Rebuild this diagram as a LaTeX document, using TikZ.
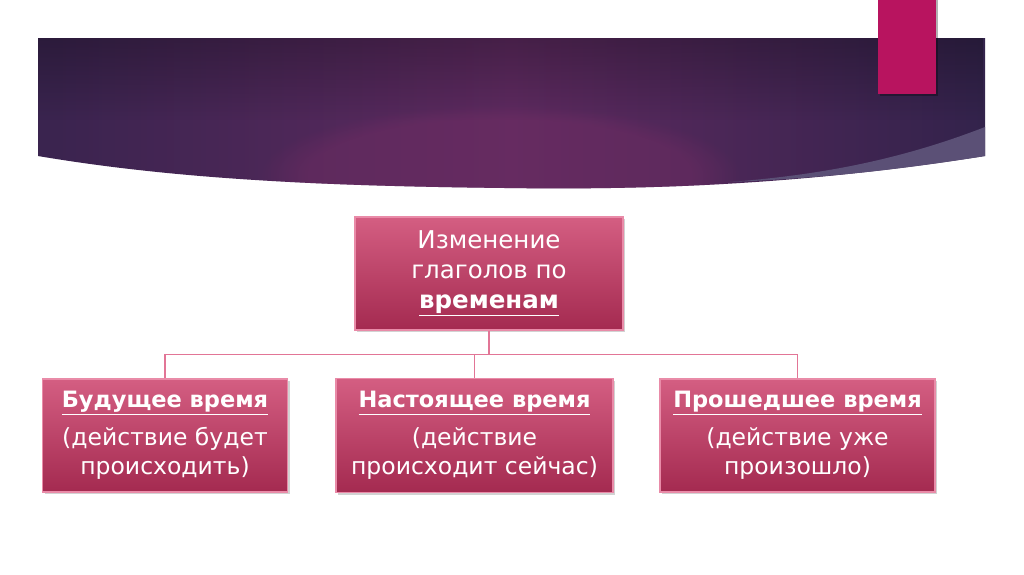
\documentclass[tikz,border=0pt]{standalone}
\usepackage{fontspec}
\setmainfont{DejaVu Sans}
\usetikzlibrary{shadows,fadings,calc}
\definecolor{bannerdark}{HTML}{2A2147}
\definecolor{bannerright}{HTML}{231D45}
\definecolor{bannermid}{HTML}{5E2A60}
\definecolor{glow}{HTML}{6E2C62}
\definecolor{stripe}{HTML}{5B5076}
\definecolor{magbar}{HTML}{B8145F}
\definecolor{boxtop}{HTML}{D45E82}
\definecolor{boxbot}{HTML}{A42A50}
\definecolor{boxedge}{HTML}{E98BA8}
\definecolor{connc}{HTML}{E27596}
\pgfdeclarehorizontalshading{bannershade}{100bp}{
  color(0bp)=(bannerdark); color(25bp)=(bannerdark!70!bannermid);
  color(50bp)=(bannermid); color(68bp)=(bannerdark!60!bannermid);
  color(80bp)=(bannerdark); color(100bp)=(bannerright)}
\tikzset{
  tbox/.style={shade, top color=boxtop, bottom color=boxbot, draw=boxedge,
    line width=1.2pt, inner sep=0pt, align=center, text=white,
    font=\fontsize{23.5}{29}\selectfont,
    drop shadow={shadow xshift=2pt, shadow yshift=-2pt, opacity=0.35}},
  conn/.style={draw=connc, line width=1.3pt}
}
\newcommand{\ttl}[1]{{\fontsize{22.5}{29}\selectfont\bfseries\underline{#1}}}
\newcommand{\bannerpath}{(38,38) -- (985,38) -- (985,156)
  .. controls (800,185) and (650,190) .. (505,188)
  .. controls (330,186) and (180,180) .. (38,156) -- cycle}
\begin{document}
\begin{tikzpicture}[x=1pt,y=-1pt]
\useasboundingbox (0,0) rectangle (1024,574);
\fill[white] (0,0) rectangle (1024,574);
% banner
\path[shading=bannershade] \bannerpath;
\begin{scope}
  \clip \bannerpath;
  \fill[black, opacity=0.25, path fading=south] (38,38) rectangle (985,120);
  \fill[glow, opacity=0.5, path fading=circle with fuzzy edge 20 percent]
    (500,175) ellipse (240 and 70);
\end{scope}
\fill[stripe] (985,127) .. controls (900,160) and (820,175) .. (730,182)
  .. controls (830,178) and (910,168) .. (985,156) -- cycle;
% magenta bar
\fill[black,opacity=0.3] (880,0) rectangle (938,96);
\fill[magbar] (878,0) rectangle (936,94);
% boxes
\node[tbox, minimum width=268pt, minimum height=113pt, font=\fontsize{24.5}{30}\selectfont] (top) at (489,273.5)
  {Изменение\\глаголов по\\\textbf{\underline{временам}}};
\node[tbox, minimum width=245pt, minimum height=113pt] (left) at (165,435.5)
  {\ttl{Будущее время}\\[9pt](действие будет\\происходить)};
\node[tbox, minimum width=277pt, minimum height=114pt] (mid) at (474.5,435.5)
  {\ttl{Настоящее время}\\[9pt](действие\\происходит сейчас)};
\node[tbox, minimum width=275pt, minimum height=113pt] (right) at (797.5,435.5)
  {\ttl{Прошедшее время}\\[9pt](действие уже\\произошло)};
% connectors
\coordinate (j) at ($(top.south)+(0,24)$);
\draw[conn] (top.south) -- (j);
\draw[conn] (left.north) |- (j) -| (right.north);
\draw[conn] (mid.north) -- (mid.north |- j);
\end{tikzpicture}
\end{document}
